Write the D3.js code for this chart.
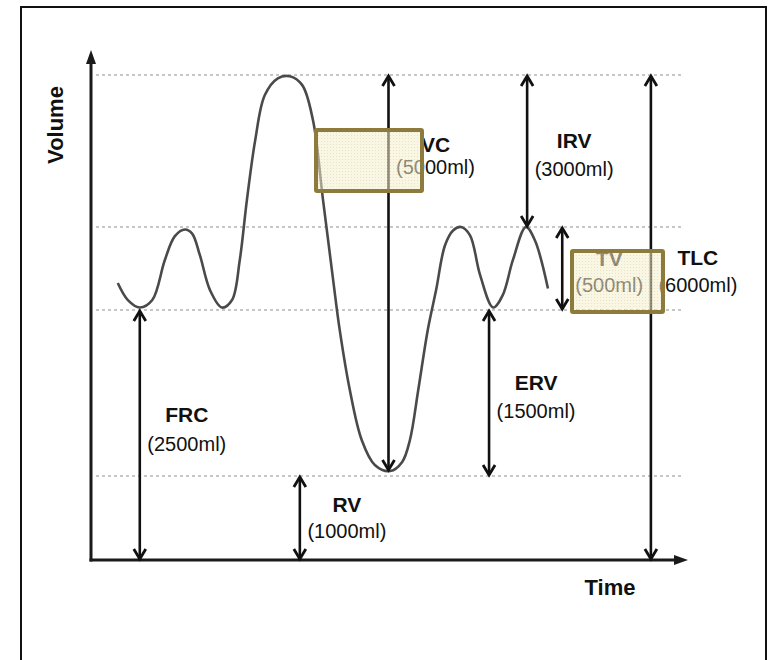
<!DOCTYPE html>
<html>
<head>
<meta charset="utf-8">
<script src="https://cdn.jsdelivr.net/npm/d3@7"></script>
<style>
  html, body { margin: 0; padding: 0; background: #fff; }
  svg { display: block; }
  text { font-family: "Liberation Sans", Arial, sans-serif; fill: #111; }
</style>
</head>
<body>
<svg id="chart" width="769" height="660"></svg>
<script>
// ---- data ----
// reference volume levels (ml)
const levels = [0, 1000, 2500, 3000, 6000];
// dashed guide lines (ml)
const guideLevels = [1000, 2500, 3000, 6000];
// spirometer trace: time (arbitrary units) and volume (ml)
const traceTime = [4.5, 6.2, 8.2, 10.3, 12.4, 14.1, 15.8, 17.0, 18.3, 20.0, 22.0, 23.7, 25.0, 26.2, 27.6, 29.2, 31.4, 33.4, 35.5, 37.3, 39.0, 40.7, 41.8, 43.5, 45.5, 47.7, 50.3, 52.3, 53.6, 55.0, 56.6, 58.0, 59.5, 60.9, 62.2, 63.7, 65.4, 67.6, 69.2, 70.9, 73.1, 74.6, 76.8];
const traceVolume = [2663, 2560, 2515, 2560, 2800, 2945, 2985, 2960, 2830, 2620, 2515, 2560, 2800, 3530, 4715, 5600, 5935, 5975, 5800, 5110, 3530, 2680, 2320, 1777, 1325, 1100, 1045, 1127, 1325, 1777, 2320, 2620, 2890, 2980, 3000, 2950, 2710, 2515, 2590, 2800, 3000, 2920, 2630];
// lung volumes / capacities
const names   = ["VC", "IRV", "TV", "TLC", "ERV", "FRC", "RV"];
const values  = ["(5000ml)", "(3000ml)", "(500ml)", "(6000ml)", "(1500ml)", "(2500ml)", "(1000ml)"];
const arrowT  = [50, 73.3, 79.2, 94.1, 66.9, 8.2, 35.1];
const arrowLo = [1045, 3000, 2500, 0, 1000, 0, 0];
const arrowHi = [6000, 6000, 3000, 6000, 2500, 2500, 1000];

// ---- layout (pixels) ----
const labelY = { VC: [152, 174], IRV: [148, 176], TV: [266, 292], TLC: [265, 292], ERV: [390, 418], FRC: [422, 451], RV: [512, 538] };
const highlightBoxes = [
  { x: 316, y: 130, w: 106, h: 61 },
  { x: 572, y: 251, w: 91, h: 61 }
];

const svg = d3.select("#chart");

// frame
svg.append("rect").attr("x", 21).attr("y", 7).attr("width", 745).attr("height", 700)
  .attr("fill", "none").attr("stroke", "#111").attr("stroke-width", 2);

const x = d3.scaleLinear().domain([0, 100]).range([91, 686]);
// schematic (piecewise) volume scale
const y = d3.scaleLinear().domain(levels).range([560, 476, 310, 227, 75]);

// dashed guides
svg.append("g").selectAll("line").data(guideLevels).join("line")
  .attr("x1", 96).attr("x2", 681)
  .attr("y1", d => y(d)).attr("y2", d => y(d))
  .attr("stroke", "#b5b5b5").attr("stroke-width", 1.6).attr("stroke-dasharray", "3,3");

// trace
const pts = traceTime.map((t, i) => [t, traceVolume[i]]);
svg.append("path").datum(pts)
  .attr("d", d3.line().x(d => x(d[0])).y(d => y(d[1])).curve(d3.curveCatmullRom.alpha(0.5)))
  .attr("fill", "none").attr("stroke", "#4a4a4a").attr("stroke-width", 2.6);

// axes
const ax = svg.append("g");
ax.append("line").attr("x1", x(0)).attr("x2", x(0)).attr("y1", y(0) + 1.5).attr("y2", 56)
  .attr("stroke", "#1a1a1a").attr("stroke-width", 3);
ax.append("path").attr("d", `M${x(0)-5},${64} L${x(0)},${50} L${x(0)+5},${64} Z`).attr("fill", "#1a1a1a");
ax.append("line").attr("x1", x(0) - 1.5).attr("x2", x(100) - 4).attr("y1", y(0)).attr("y2", y(0))
  .attr("stroke", "#1a1a1a").attr("stroke-width", 3);
ax.append("path").attr("d", `M${x(100)-12},${y(0)-5} L${x(100)+2},${y(0)} L${x(100)-12},${y(0)+5} Z`).attr("fill", "#1a1a1a");

// axis titles
svg.append("text").attr("transform", "translate(63,125) rotate(-90)")
  .attr("text-anchor", "middle").attr("font-size", 22).attr("font-weight", "bold").text("Volume");
svg.append("text").attr("x", 610).attr("y", 595)
  .attr("text-anchor", "middle").attr("font-size", 22).attr("font-weight", "bold").text("Time");

// double-headed arrows
const ag = svg.append("g");
names.forEach((n, i) => {
  const xx = x(arrowT[i]);
  const yTop = y(arrowHi[i]);
  const yBot = y(arrowLo[i]);
  ag.append("line").attr("x1", xx).attr("x2", xx).attr("y1", yTop + 1).attr("y2", yBot - 1)
    .attr("stroke", "#111").attr("stroke-width", 2.6);
  ag.append("path").attr("d", `M${xx-6},${yTop+11} L${xx},${yTop+1} L${xx+6},${yTop+11}`)
    .attr("fill", "none").attr("stroke", "#111").attr("stroke-width", 2.8).attr("stroke-linejoin", "miter");
  ag.append("path").attr("d", `M${xx-6},${yBot-11} L${xx},${yBot-1} L${xx+6},${yBot-11}`)
    .attr("fill", "none").attr("stroke", "#111").attr("stroke-width", 2.8).attr("stroke-linejoin", "miter");
});

// labels
const lg = svg.append("g");
names.forEach((n, i) => {
  const cx = x(arrowT[i]) + 47;
  lg.append("text").attr("x", cx).attr("y", labelY[n][0]).attr("text-anchor", "middle")
    .attr("font-size", 21).attr("font-weight", "bold").text(n);
  lg.append("text").attr("x", cx).attr("y", labelY[n][1]).attr("text-anchor", "middle")
    .attr("font-size", 20).attr("fill", "#222").text(values[i]);
});

// highlight boxes (dotted pale fill, olive border)
const defs = svg.append("defs");
const pat = defs.append("pattern").attr("id", "dots").attr("width", 3).attr("height", 3)
  .attr("patternUnits", "userSpaceOnUse");
pat.append("rect").attr("width", 3).attr("height", 3).attr("fill", "#f6eecd");
pat.append("rect").attr("width", 1).attr("height", 1).attr("fill", "#d9cb93");

const bg = svg.append("g");
bg.selectAll("rect.fill").data(highlightBoxes).join("rect").attr("class", "fill")
  .attr("x", d => d.x).attr("y", d => d.y).attr("width", d => d.w).attr("height", d => d.h)
  .attr("fill", "url(#dots)").attr("opacity", 0.55);
bg.selectAll("rect.border").data(highlightBoxes).join("rect").attr("class", "border")
  .attr("x", d => d.x).attr("y", d => d.y).attr("width", d => d.w).attr("height", d => d.h)
  .attr("fill", "none").attr("stroke", "#8d7b3d").attr("stroke-width", 4).attr("rx", 1);
</script>
</body>
</html>
